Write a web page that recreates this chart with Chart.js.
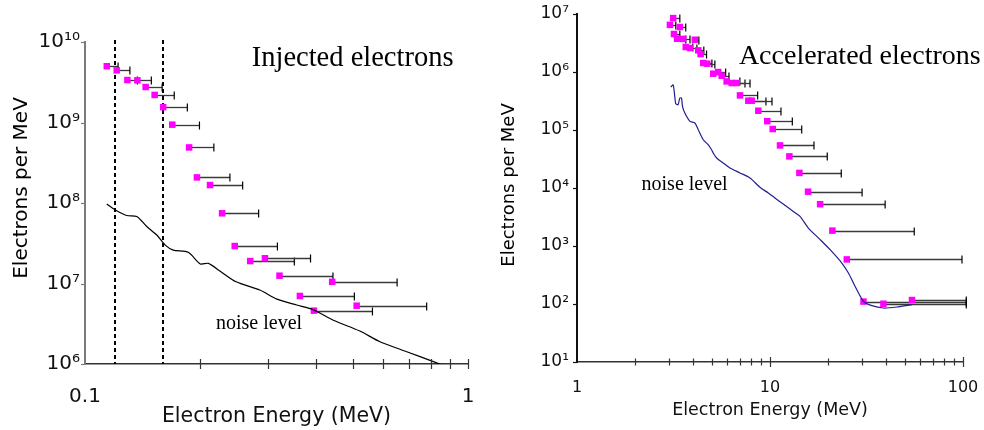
<!DOCTYPE html>
<html lang="en">
<head>
<meta charset="UTF-8" />
<title>Electron spectra</title>
<script src="https://cdn.jsdelivr.net/npm/chart.js@4"></script>
<style>
  body { margin: 0; background: #fff; }
  .panel { position: absolute; top: 0; height: 430px; }
  #left { left: 0; width: 490px; }
  #right { left: 490px; width: 494px; }
</style>
</head>
<body>
<div class="panel" id="left"><canvas id="injChart" width="490" height="430"></canvas></div>
<div class="panel" id="right"><canvas id="accChart" width="494" height="430"></canvas></div>

<script>
// ---- injected electrons (left panel) ----
const injEnergy     = [0.114, 0.121, 0.129, 0.137, 0.144, 0.152, 0.160, 0.169, 0.187, 0.196, 0.212, 0.228, 0.246, 0.270, 0.295, 0.322, 0.364, 0.396, 0.442, 0.512];
const injCount      = [5.0e9, 4.45e9, 3.37e9, 3.34e9, 2.76e9, 2.2e9, 1.55e9, 9.4e8, 4.9e8, 2.08e8, 1.67e8, 7.45e7, 2.92e7, 1.9e7, 2.06e7, 1.25e7, 7.0e6, 4.6e6, 1.05e7, 5.3e6];
const injEnergyHigh = [0.122, 0.131, 0.137, 0.149, 0.159, 0.171, 0.185, 0.199, 0.217, 0.239, 0.258, 0.284, 0.318, 0.352, 0.388, 0.444, 0.505, 0.563, 0.653, 0.780];
const injNoiseE = [0.114, 0.120, 0.1285, 0.1365, 0.145, 0.154, 0.162, 0.170, 0.186, 0.200, 0.210, 0.225, 0.248, 0.286, 0.317, 0.357, 0.395, 0.445, 0.522, 0.589, 0.692, 0.812, 0.877];
const injNoise  = [9.7e7, 8.2e7, 7.0e7, 6.8e7, 5.1e7, 4.0e7, 3.0e7, 2.6e7, 2.44e7, 1.75e7, 1.78e7, 1.43e7, 1.05e7, 8.3e6, 6.4e6, 5.4e6, 4.7e6, 3.5e6, 2.57e6, 1.89e6, 1.42e6, 1.07e6, 9.3e5];
const injCuts = [0.12, 0.16];
const injXTicks = [0.1, 1];
const injXLabels = ['0.1', '1'];
const injXMinor = [0.2, 0.3, 0.4, 0.5, 0.6, 0.7, 0.8, 0.9];
const injYTicks = [1e6, 1e7, 1e8, 1e9, 1e10];
const injYLabels = ['10\u2076', '10\u2077', '10\u2078', '10\u2079', '10\u00b9\u2070'];

// ---- accelerated electrons (right panel) ----
const accEnergy     = [3.03, 3.15, 3.18, 3.30, 3.41, 3.55, 3.66, 3.85, 4.08, 4.25, 4.37, 4.51, 4.73, 5.08, 5.39, 5.62, 5.96, 6.33, 6.72, 6.99, 7.72, 8.04, 8.70, 9.68, 10.33, 11.27, 12.6, 14.2, 15.75, 18.18, 21.05, 25.0, 30.5, 38.7, 54.4];
const accCount      = [6.5e6, 8.5e6, 4.52e6, 3.75e6, 5.97e6, 3.72e6, 2.7e6, 2.59e6, 3.6e6, 2.36e6, 2.04e6, 1.43e6, 1.39e6, 9.35e5, 1.0e6, 8.63e5, 6.88e5, 6.46e5, 6.46e5, 3.95e5, 3.2e5, 3.2e5, 2.15e5, 1.42e5, 1.04e5, 5.42e4, 3.51e4, 1.82e4, 8.63e3, 5.26e3, 1.84e3, 587, 110, 101, 117];
const accEnergyHigh = [3.25, 3.41, 3.41, 3.66, 3.66, 3.85, 3.98, 4.18, 4.28, 4.54, 4.69, 5.0, 5.18, 5.5, 5.89, 6.13, 6.98, 7.42, 7.88, 8.63, 9.53, 10.24, 11.4, 13.05, 14.6, 16.9, 19.8, 23.4, 30.0, 39.5, 55.9, 98.8, 104, 104, 104];
const accNoiseE = [3.06, 3.15, 3.21, 3.25, 3.34, 3.41, 3.48, 3.52, 3.62, 3.85, 4.08, 4.25, 4.51, 4.78, 4.98, 5.08, 5.29, 5.72, 6.20, 6.99, 7.88, 8.87, 9.80, 11.27, 13.21, 14.31, 15.80, 18.18, 20.48, 23.56, 25.49, 27.61, 30.5, 33.7, 38.7, 45.4, 54.4];
const accNoise  = [5.5e5, 6.0e5, 3.8e5, 2.84e5, 2.73e5, 3.56e5, 3.56e5, 2.55e5, 1.96e5, 1.41e5, 1.32e5, 1.01e5, 6.8e4, 5.58e4, 4.57e4, 4.01e4, 3.29e4, 2.70e4, 2.21e4, 1.82e4, 1.49e4, 1.03e4, 8.2e3, 5.8e3, 3.95e3, 3.24e3, 2.04e3, 1.29e3, 863, 509, 342, 201, 111, 93.5, 85.3, 88.7, 97.3];
const accXTicks = [1, 10, 100];
const accXLabels = ['1', '10', '100'];
const accXMinor = [2, 3, 4, 5, 6, 7, 8, 9, 20, 30, 40, 50, 60, 70, 80, 90];
const accYTicks = [1e1, 1e2, 1e3, 1e4, 1e5, 1e6, 1e7];
const accYLabels = ['10\u00b9', '10\u00b2', '10\u00b3', '10\u2074', '10\u2075', '10\u2076', '10\u2077'];

const SANS = 'DejaVu Sans';

// error bars, dashed cuts, crossing tick marks, y titles and notes
const decorPlugin = {
  id: 'decor',
  beforeDatasetsDraw(chart, args, o) {
    const { ctx, chartArea: a, scales: { x, y } } = chart;
    ctx.save();
    ctx.strokeStyle = '#000';
    ctx.lineWidth = 2;
    ctx.setLineDash([4, 3]);
    (o.cuts || []).forEach(v => {
      const px = Math.round(x.getPixelForValue(v));
      ctx.beginPath(); ctx.moveTo(px, a.top - 2); ctx.lineTo(px, a.bottom); ctx.stroke();
    });
    ctx.setLineDash([]);
    o.lo.forEach((e, i) => {
      const x0 = x.getPixelForValue(e);
      const x1 = x.getPixelForValue(o.hi[i]);
      const py = Math.round(y.getPixelForValue(o.val[i])) + 0.5;
      ctx.strokeStyle = '#3a3a3a'; ctx.lineWidth = 1.3;
      ctx.beginPath(); ctx.moveTo(x0, py); ctx.lineTo(x1, py); ctx.stroke();
      ctx.strokeStyle = '#000'; ctx.lineWidth = 1.2;
      ctx.beginPath(); ctx.moveTo(x1, py - 4); ctx.lineTo(x1, py + 4); ctx.stroke();
    });
    ctx.restore();
  },
  afterDraw(chart, args, o) {
    const { ctx, chartArea: a, scales: { x, y } } = chart;
    ctx.save();
    // x tick marks crossing the axis
    ctx.strokeStyle = o.xColor; ctx.lineWidth = 1.2;
    const xm = o.xMajor.map(v => [v, o.majorLen]).concat(o.xMinor.map(v => [v, o.minorLen]));
    xm.forEach(([v, len]) => {
      if (v === x.min) return;
      const px = Math.round(x.getPixelForValue(v)) + 0.5;
      ctx.beginPath(); ctx.moveTo(px, a.bottom - len); ctx.lineTo(px, a.bottom + len); ctx.stroke();
    });
    // y tick marks, outward
    ctx.strokeStyle = o.yColor;
    o.yTicks.forEach(v => {
      const py = Math.round(y.getPixelForValue(v)) + 0.5;
      ctx.beginPath(); ctx.moveTo(a.left - 4, py); ctx.lineTo(a.left, py); ctx.stroke();
    });
    // y title
    ctx.fillStyle = '#000';
    ctx.font = o.yTitle.font;
    ctx.textAlign = 'center'; ctx.textBaseline = 'middle';
    ctx.translate(o.yTitle.x, (a.top + a.bottom) / 2 + o.yTitle.shift);
    ctx.rotate(-Math.PI / 2);
    ctx.fillText(o.yTitle.text, 0, 0);
    ctx.setTransform(1, 0, 0, 1, 0, 0);
    // notes anchored at data coords
    ctx.textAlign = 'left'; ctx.textBaseline = 'alphabetic';
    o.notes.forEach(n => {
      ctx.font = n.font;
      ctx.fillText(n.text, x.getPixelForValue(n.x), y.getPixelForValue(n.y));
    });
    ctx.restore();
  }
};

function zip(xs, ys) { return xs.map((v, i) => ({ x: v, y: ys[i] })); }

function makeChart(id, c) {
  return new Chart(document.getElementById(id), {
    type: 'scatter',
    data: {
      datasets: [
        { data: zip(c.noiseE, c.noise), showLine: true, borderColor: c.noiseColor, borderWidth: 1.2, pointRadius: 0, tension: 0.25 },
        { data: zip(c.energy, c.count), pointStyle: 'rect', pointRadius: 4.6, backgroundColor: '#ff00ff', borderWidth: 0 }
      ]
    },
    options: {
      responsive: false,
      animation: false,
      events: [],
      layout: { padding: c.pad },
      plugins: {
        legend: { display: false },
        tooltip: { enabled: false },
        decor: c.decor
      },
      scales: {
        x: {
          type: 'logarithmic', min: c.xMin, max: c.xMax,
          afterBuildTicks: s => { s.ticks = c.xTicks.map(v => ({ value: v })); },
          // fixed axis box; label overhang is covered by the layout padding
          afterFit: s => { s.height = c.xHeight; s.paddingLeft = 0; s.paddingRight = 0; },
          grid: { display: false, drawTicks: false },
          border: { color: c.decor.xColor, width: 1.6 },
          ticks: { autoSkip: false, maxRotation: 0, padding: c.xPad, color: '#111',
                   font: { family: SANS, size: c.tickSize }, callback: (v, i) => c.xLabels[i] },
          title: { display: true, text: 'Electron Energy (MeV)', color: '#111',
                   font: { family: SANS, size: c.xTitleSize }, padding: { top: 0, bottom: c.xTitlePad } }
        },
        y: {
          type: 'logarithmic', min: c.yMin, max: c.yMax,
          afterBuildTicks: s => { s.ticks = c.yTicks.map(v => ({ value: v })); },
          afterFit: s => { s.width = c.yWidth; s.paddingTop = 0; s.paddingBottom = 0; },
          grid: { display: false, drawTicks: false },
          border: { color: c.decor.yColor, width: 2 },
          ticks: { autoSkip: false, padding: c.yPad, color: '#111',
                   font: { family: SANS, size: c.yTickSize }, callback: (v, i) => c.yLabels[i] }
        }
      }
    },
    plugins: [decorPlugin]
  });
}

makeChart('injChart', {
  energy: injEnergy, count: injCount, noiseE: injNoiseE, noise: injNoise, noiseColor: '#000',
  xMin: 0.1, xMax: 1, yMin: 1e6, yMax: 1e10,
  xTicks: injXTicks, xLabels: injXLabels, yTicks: injYTicks, yLabels: injYLabels,
  pad: { left: 0, right: 22, top: 42, bottom: 0 },
  xHeight: 66, yWidth: 85, xPad: 21, yPad: 5,
  tickSize: 20, yTickSize: 20, xTitleSize: 20.5, xTitlePad: 1,
  decor: {
    lo: injEnergy, hi: injEnergyHigh, val: injCount, cuts: injCuts,
    xMajor: injXTicks, xMinor: injXMinor, majorLen: 5, minorLen: 5,
    yTicks: injYTicks, xColor: '#333', yColor: '#7a7a7a',
    yTitle: { text: 'Electrons per MeV', font: '20px "DejaVu Sans"', x: 21.5, shift: -15 },
    notes: [
      { text: 'Injected electrons', x: 0.2725, y: 5.03e9, font: '28.5px "Liberation Serif"' },
      { text: 'noise level', x: 0.2198, y: 2.72e6, font: '20px "Liberation Serif"' }
    ]
  }
});

makeChart('accChart', {
  energy: accEnergy, count: accCount, noiseE: accNoiseE, noise: accNoise, noiseColor: '#1f1f8f',
  xMin: 1, xMax: 100, yMin: 1e1, yMax: 1e7,
  xTicks: accXTicks, xLabels: accXLabels, yTicks: accYTicks, yLabels: accYLabels,
  pad: { left: 0, right: 21, top: 14, bottom: 0 },
  xHeight: 68, yWidth: 87, xPad: 16, yPad: 8,
  tickSize: 16, yTickSize: 17, xTitleSize: 17.5, xTitlePad: 9.5,
  decor: {
    lo: accEnergy, hi: accEnergyHigh, val: accCount, cuts: [],
    xMajor: accXTicks, xMinor: accXMinor, majorLen: 5, minorLen: 3.5,
    yTicks: accYTicks, xColor: '#333', yColor: '#111',
    yTitle: { text: 'Electrons per MeV', font: '18px "DejaVu Sans"', x: 19, shift: -3 },
    notes: [
      { text: 'Accelerated electrons', x: 6.9, y: 1.37e6, font: '28px "Liberation Serif"' },
      { text: 'noise level', x: 2.16, y: 9.1e3, font: '20px "Liberation Serif"' }
    ]
  }
});
</script>
</body>
</html>
